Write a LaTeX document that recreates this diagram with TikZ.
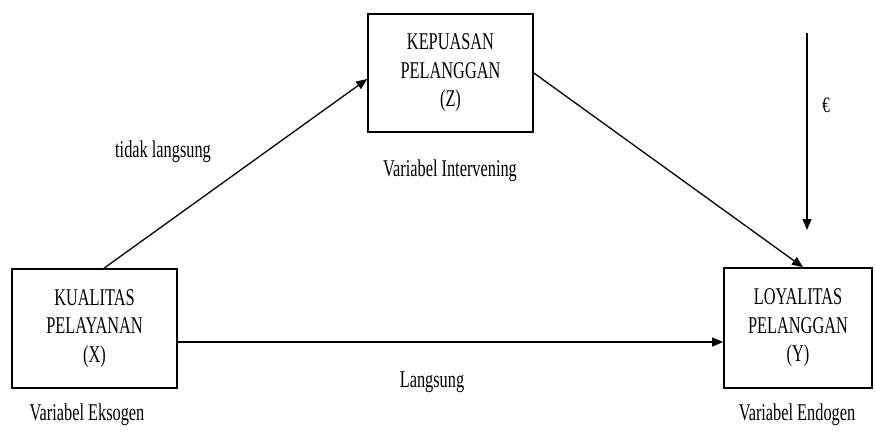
\documentclass[tikz,border=0pt]{standalone}
\usepackage{fontspec}
\setmainfont{Liberation Serif}[FakeStretch=0.68]
\usetikzlibrary{arrows.meta,calc}
\tikzset{
  varbox/.style={draw, line width=1.6pt, align=center, inner sep=0pt,
    font=\fontsize{24}{28.5}\selectfont},
  lbl/.style={inner sep=0pt, font=\fontsize{24}{28}\selectfont},
  path/.style={line width=1.3pt, -{Triangle[length=11pt,width=9pt]}}
}
\begin{document}
\begin{tikzpicture}[x=1pt,y=-1pt]
  \useasboundingbox (0,0) rectangle (875,434);
  % variable boxes
  \node[varbox, minimum width=165pt, minimum height=118pt] (Z) at (450.5,73)
    {KEPUASAN\\PELANGGAN\\(Z)};
  \node[varbox, minimum width=165pt, minimum height=119pt] (X) at (94.5,328.5)
    {KUALITAS\\PELAYANAN\\(X)};
  \node[varbox, minimum width=148pt, minimum height=120pt] (Y) at (798,328)
    {LOYALITAS\\PELANGGAN\\(Y)};
  % captions
  \node[lbl] (lz) at (450,171) {Variabel Intervening};
  \node[lbl] (lx) at (87,415) {Variabel Eksogen};
  \node[lbl] (ly) at (797,415) {Variabel Endogen};
  \node[lbl] (ind) at (163,152) {tidak langsung};
  \node[lbl] (dir) at (432,382) {Langsung};
  \node[lbl, font=\fontsize{22}{24}\selectfont] (eps) at (826,105) {€};
  % error term arrow
  \coordinate (etop) at (807,33);
  \coordinate (ebot) at (807,230);
  % paths
  \draw[path] ($(X.north)+(9.5,0)$) -- ($(Z.west)+(0,6)$);
  \draw[path] (Z.east) -- ($(Y.north)+(5,0)$);
  \draw[path] ($(X.east)+(0,13.5)$) -- ($(Y.west)+(0,14)$);
  \draw[path] (etop) -- (ebot);
\end{tikzpicture}
\end{document}
